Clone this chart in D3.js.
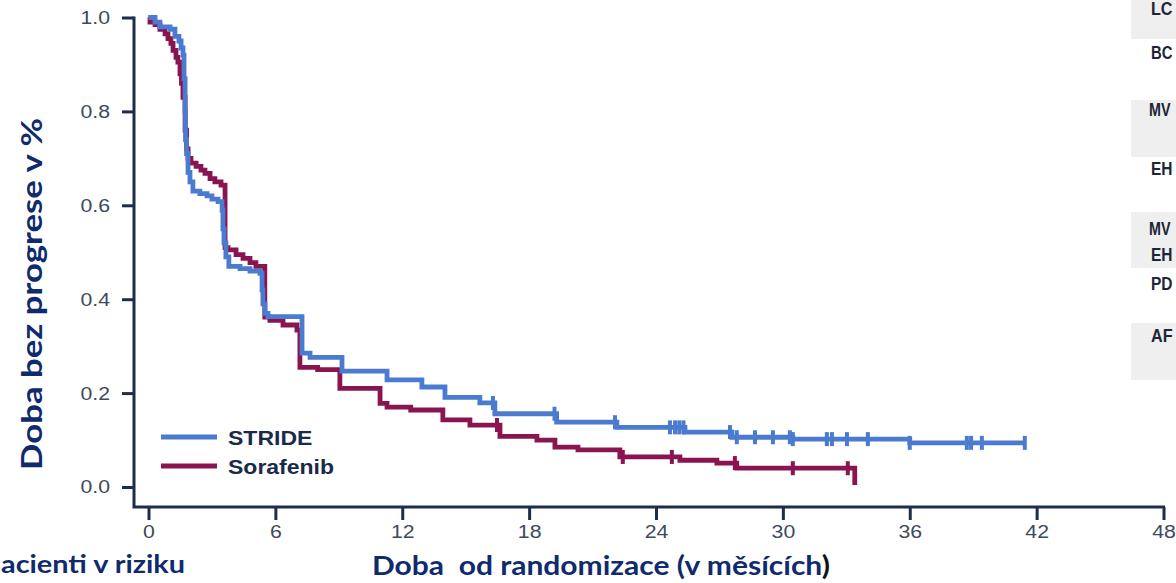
<!DOCTYPE html>
<html>
<head>
<meta charset="utf-8">
<script src="https://cdn.jsdelivr.net/npm/d3@7"></script>
<style>
  body { margin: 0; background: #ffffff; overflow: hidden; }
  svg { display: block; }
</style>
</head>
<body>
<svg id="chart" width="1176" height="583"></svg>
<script>
// Kaplan–Meier step data: time (months) at which the curve steps, survival after the step
const strideTime = [0, 0.31, 0.54, 1.02, 1.25, 1.44, 1.54, 1.63, 1.68, 1.73, 1.75, 1.80, 1.87, 1.96, 2.10, 2.43, 2.77, 3.00, 3.29, 3.48, 3.52, 3.57, 3.66, 3.80, 4.33, 4.80, 5.27, 5.37, 5.41, 5.51, 5.65, 7.26, 7.64, 9.15, 11.28, 12.93, 14.02, 15.67, 16.38, 19.30, 22.15, 25.37, 27.59, 30.47, 36.00, 41.44];
const strideSurv = [1.0, 0.99, 0.98, 0.975, 0.96, 0.95, 0.935, 0.92, 0.87, 0.80, 0.74, 0.71, 0.67, 0.65, 0.63, 0.625, 0.62, 0.613, 0.608, 0.59, 0.55, 0.52, 0.49, 0.47, 0.465, 0.46, 0.455, 0.42, 0.39, 0.37, 0.363, 0.285, 0.276, 0.247, 0.228, 0.213, 0.191, 0.179, 0.156, 0.138, 0.127, 0.117, 0.106, 0.102, 0.094, 0.094];
const strideCensor = [16.29, 19.20, 22.06, 24.66, 24.90, 25.10, 25.30, 27.50, 27.82, 28.68, 29.53, 30.33, 30.47, 32.08, 32.32, 33.03, 34.02, 36.00, 38.70, 38.90, 39.41, 41.44];

const soraTime = [0, 0.07, 0.31, 0.54, 0.78, 0.92, 1.06, 1.16, 1.30, 1.39, 1.49, 1.56, 1.63, 1.73, 1.80, 1.87, 2.01, 2.25, 2.48, 2.67, 2.91, 3.14, 3.43, 3.62, 3.76, 4.14, 4.47, 4.80, 5.08, 5.50, 5.74, 6.36, 7.02, 7.16, 8.00, 9.05, 10.95, 11.28, 12.40, 13.92, 15.20, 16.62, 18.37, 19.22, 20.31, 22.29, 25.13, 26.88, 27.82, 33.40];
const soraSurv = [1.0, 0.99, 0.985, 0.975, 0.965, 0.955, 0.945, 0.93, 0.915, 0.905, 0.88, 0.86, 0.83, 0.76, 0.72, 0.70, 0.69, 0.683, 0.675, 0.668, 0.657, 0.65, 0.643, 0.51, 0.505, 0.495, 0.487, 0.478, 0.47, 0.362, 0.355, 0.345, 0.334, 0.255, 0.25, 0.21, 0.178, 0.17, 0.164, 0.143, 0.132, 0.108, 0.10, 0.085, 0.079, 0.064, 0.057, 0.051, 0.04, 0.004];
const soraCensor = [16.48, 22.43, 24.75, 27.73, 30.47, 33.07];

const seriesNames = ["STRIDE", "Sorafenib"];
const xTicks = [0, 6, 12, 18, 24, 30, 36, 42, 48];
const yTicks = [0.0, 0.2, 0.4, 0.6, 0.8, 1.0];

// Side table row labels, as far as the page width shows them
const tableRows = ["LC", "BC", "MV", "EH", "MV", "EH", "PD", "AF"];

const COLORS = { STRIDE: "#4a7bd0", Sorafenib: "#8a1450" };
const AXIS = "#1d2d4a";
const TICKTXT = "#3e4a5c";
const TITLE = "#0f2b6e";
const SX = 1.15; // horizontal stretch of the typeface

const svg = d3.select("#chart");

const x = d3.scaleLinear().domain([0, 48]).range([148.5, 1163.5]);
const y = d3.scaleLinear().domain([0, 1]).range([487, 17.5]);
const axisX0 = 134, axisY0 = 507;

// side table backgrounds and labels
const tableBands = [[-10, 39], [100, 157], [212, 268], [323, 380]];
svg.append("g").selectAll("rect").data(tableBands).join("rect")
  .attr("x", 1131).attr("y", d => d[0]).attr("width", 60).attr("height", d => d[1] - d[0])
  .attr("fill", "#efefef");
const tableY = [15, 59, 116, 175, 235, 261, 290, 342];
svg.append("g").selectAll("text").data(tableRows).join("text")
  .attr("x", d => d === "MV" ? 1149 : 1151).attr("y", (d, i) => tableY[i])
  .attr("font-family", "Liberation Sans, Arial, sans-serif").attr("font-weight", "bold")
  .attr("font-size", 18).attr("fill", "#1c2636")
  .attr("textLength", 21.5).attr("lengthAdjust", "spacingAndGlyphs")
  .text(d => d);

// axes
const gy = svg.append("g").attr("transform", `translate(${axisX0},0)`)
  .call(d3.axisLeft(y).tickValues(yTicks).tickFormat(d3.format(".1f")).tickSize(12).tickSizeOuter(0));
gy.select(".domain").remove();
gy.selectAll(".tick line").attr("stroke", AXIS).attr("stroke-width", 3);
gy.selectAll(".tick text")
  .attr("x", -24 / SX).attr("transform", `scale(${SX},1)`)
  .attr("font-family", "Liberation Sans, Arial, sans-serif").attr("font-size", 18.5).attr("fill", TICKTXT);

const gx = svg.append("g").attr("transform", `translate(0,${axisY0})`)
  .call(d3.axisBottom(x).tickValues(xTicks).tickFormat(d3.format("d")).tickSize(13).tickSizeOuter(0));
gx.select(".domain").remove();
gx.selectAll(".tick line").attr("stroke", AXIS).attr("stroke-width", 3);
gx.selectAll(".tick text")
  .attr("y", 18).attr("transform", `scale(${SX},1)`)
  .attr("font-family", "Liberation Sans, Arial, sans-serif").attr("font-size", 18.5).attr("fill", TICKTXT);

svg.append("path")
  .attr("d", `M${axisX0},${y(1) - 1}V${axisY0}H${x(48) + 1.5}`)
  .attr("fill", "none").attr("stroke", AXIS).attr("stroke-width", 3);

// curves
const line = d3.line().x(d => x(d[0])).y(d => y(d[1])).curve(d3.curveStepAfter);
const series = [
  { name: "STRIDE", t: strideTime, s: strideSurv, c: strideCensor },
  { name: "Sorafenib", t: soraTime, s: soraSurv, c: soraCensor }
];
const survAt = (ser, t) => ser.s[Math.max(0, d3.bisectRight(ser.t, t) - 1)];

// Sorafenib drawn first so STRIDE lies on top
[series[1], series[0]].forEach(ser => {
  const pts = ser.t.map((t, i) => [t, ser.s[i]]);
  svg.append("path").datum(pts)
    .attr("d", line).attr("fill", "none")
    .attr("stroke", COLORS[ser.name]).attr("stroke-width", 4.8)
    .attr("stroke-linejoin", "miter");
  svg.append("g").selectAll("line").data(ser.c).join("line")
    .attr("x1", d => x(d)).attr("x2", d => x(d))
    .attr("y1", d => y(survAt(ser, d)) - 7).attr("y2", d => y(survAt(ser, d)) + 7)
    .attr("stroke", COLORS[ser.name]).attr("stroke-width", 4);
});

// legend
const legend = svg.append("g");
seriesNames.forEach((name, i) => {
  const ly = 437 + i * 29;
  legend.append("line").attr("x1", 161).attr("x2", 217).attr("y1", ly).attr("y2", ly)
    .attr("stroke", COLORS[name]).attr("stroke-width", 5);
  legend.append("g").attr("transform", `translate(228,${ly + 7.5}) scale(${SX},1)`)
    .append("text").attr("font-family", "Liberation Sans, Arial, sans-serif")
    .attr("font-weight", "bold").attr("font-size", 20).attr("fill", "#1b2a48")
    .text(name);
});

// titles
svg.append("text")
  .attr("transform", "translate(42,294) rotate(-90)")
  .attr("text-anchor", "middle")
  .attr("font-family", "Lato, 'Open Sans', sans-serif").attr("font-weight", "bold")
  .attr("font-size", 29).attr("fill", TITLE)
  .attr("textLength", 352).attr("lengthAdjust", "spacingAndGlyphs")
  .text("Doba bez progrese v %");

const xt = svg.append("text")
  .attr("x", 372).attr("y", 575)
  .attr("font-family", "Lato, 'Open Sans', sans-serif").attr("font-weight", "bold")
  .attr("font-size", 26).attr("fill", TITLE)
  .attr("textLength", 458).attr("lengthAdjust", "spacingAndGlyphs")
  .style("white-space", "pre");
xt.append("tspan").text("Doba  od randomizace (v měsících");
xt.append("tspan").attr("fill", "#111111").text(")");

svg.append("text")
  .attr("x", 1).attr("y", 573)
  .attr("font-family", "Lato, 'Open Sans', sans-serif").attr("font-weight", "bold")
  .attr("font-size", 25).attr("fill", TITLE)
  .attr("textLength", 184).attr("lengthAdjust", "spacingAndGlyphs")
  .text("acienti v riziku");
</script>
</body>
</html>
